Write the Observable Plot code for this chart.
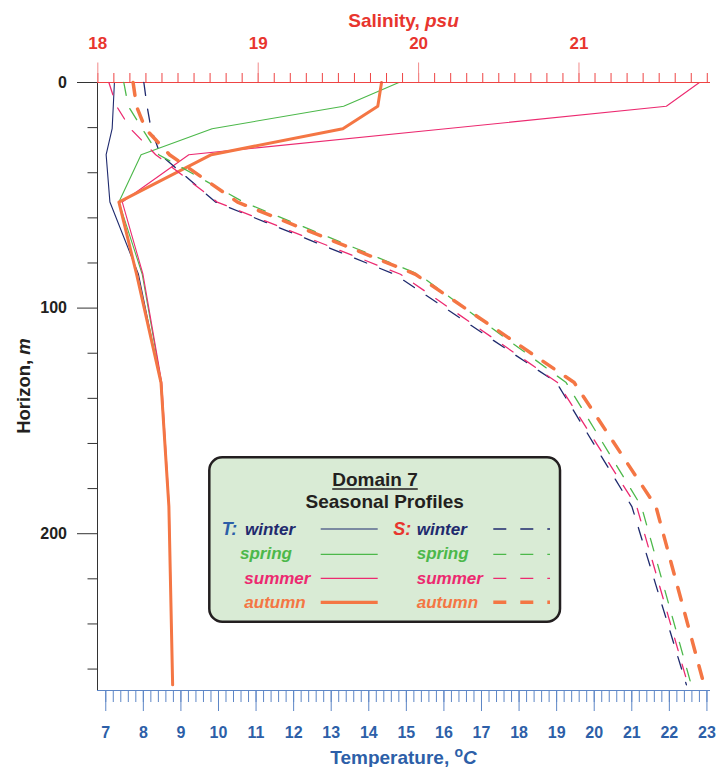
<!DOCTYPE html>
<html><head><meta charset="utf-8">
<script src="https://cdn.jsdelivr.net/npm/d3@7"></script>
<script src="https://cdn.jsdelivr.net/npm/@observablehq/plot@0.6"></script>
<style>
html,body{margin:0;padding:0;background:#fff;}
#wrap{position:relative;width:717px;height:767px;overflow:hidden;background:#fff;font-family:"Liberation Sans",Arial,sans-serif;}
#wrap > svg{position:absolute;left:0;top:0;}
</style></head><body><div id="wrap"></div>
<script>
// ---- data ----
const seasons = ["winter", "spring", "summer", "autumn"];
const depth = [0, 10.5, 20.5, 32, 53, 85, 133, 188, 267];

const tempWinter = [7.23, 7.20, 7.17, 7.01, 7.11, 7.87, 8.46, 8.68, 8.78];
const tempSpring = [14.80, 13.33, 9.83, 7.94, 7.35, 7.97, 8.48, 8.68, 8.78];
const tempSummer = [22.80, 21.92, 16.05, 9.21, 7.44, 7.99, 8.49, 8.69, 8.78];
const tempAutumn = [14.34, 14.24, 13.31, 9.81, 7.35, 7.82, 8.47, 8.68, 8.78];

const salWinter = [18.287, 18.307, 18.332, 18.39, 18.734, 19.85, 20.86, 21.33, 21.67];
const salSpring = [18.162, 18.19, 18.277, 18.38, 18.908, 20.0, 20.92, 21.39, 21.70];
const salSummer = [18.069, 18.117, 18.204, 18.361, 18.744, 19.887, 20.866, 21.36, 21.68];
const salAutumn = [18.22, 18.241, 18.297, 18.447, 18.871, 19.98, 20.97, 21.48, 21.78];

const tempTicks = [7, 8, 9, 10, 11, 12, 13, 14, 15, 16, 17, 18, 19, 20, 21, 22, 23];
const salTicks = [18, 19, 20, 21];
const depthTicks = [0, 100, 200];

const seasonColors = {winter: "#1f2a6e", spring: "#4cb84a", summer: "#ec2a70", autumn: "#f47644"};

// ---- tables ----
const tempSeries = {winter: tempWinter, spring: tempSpring, summer: tempSummer, autumn: tempAutumn};
const salSeries = {winter: salWinter, spring: salSpring, summer: salSummer, autumn: salAutumn};
const tempRows = seasons.flatMap(s => depth.map((d, i) => ({season: s, depth: d, value: tempSeries[s][i]})));
const salRows = seasons.flatMap(s => depth.map((d, i) => ({season: s, depth: d, value: salSeries[s][i]})));

const tempMinor = d3.range(35, 116).map(d => d / 5);
const salMinor = d3.range(180, 219).map(d => d / 10);
const depthMinor = d3.range(0, 261, 20).filter(d => d % 100 !== 0);

const W = 717, H = 767;
const dims = {width: W, height: H, marginLeft: 97, marginRight: 7, marginTop: 82, marginBottom: 77};
const yOpt = {domain: [0, 269.5], reverse: true, axis: null};
const font = "'Liberation Sans', Arial, sans-serif";
const BLUE_T = "#5d86c6", BLUE_L = "#2d5fa8", RED = "#e8352e", RED_T = "#ee4444", RED_M = "#f28a8a", DARK = "#231f20";

const tPlot = Plot.plot({
  ...dims,
  x: {domain: [6.78, 23.095], axis: null},
  y: yOpt,
  style: {background: "transparent", fontFamily: font, overflow: "visible"},
  marks: [
    Plot.axisX({anchor: "bottom", ticks: tempMinor, tickSize: 12, stroke: BLUE_T, fill: "none", label: null}),
    Plot.axisX({anchor: "bottom", ticks: tempTicks, tickSize: 21, tickPadding: 15, stroke: BLUE_T, fill: BLUE_L,
      fontSize: 16, fontWeight: "bold", label: null, tickFormat: d => String(d)}),
    Plot.axisY({anchor: "left", ticks: depthMinor, tickSize: 9.5, stroke: "#333", fill: "none", label: null}),
    Plot.axisY({anchor: "left", ticks: depthTicks, tickSize: 20, tickPadding: 10.5, stroke: "#333", fill: DARK,
      fontSize: 16, fontWeight: "bold", label: null, tickFormat: d => String(d)}),
    Plot.ruleY([269.5], {stroke: BLUE_T}),
    Plot.ruleX([6.78], {stroke: "#333"}),
    ...seasons.map(s => Plot.line(tempRows.filter(r => r.season === s), {
      x: "value", y: "depth", stroke: seasonColors[s], strokeWidth: s === "autumn" ? 3 : 1.1
    }))
  ]
});

const sPlot = Plot.plot({
  ...dims,
  x: {domain: [17.998, 21.82], axis: null},
  y: yOpt,
  style: {background: "transparent", fontFamily: font, overflow: "visible"},
  marks: [
    Plot.axisX({anchor: "top", ticks: salMinor, tickSize: 10, stroke: RED_T, fill: "none", label: null}),
    Plot.axisX({anchor: "top", ticks: salTicks, tickSize: 20.5, tickPadding: 13.5, stroke: RED_M, fill: RED,
      fontSize: 17, fontWeight: "bold", label: null, tickFormat: d => String(d)}),
    Plot.ruleY([0], {stroke: RED_T}),
    ...seasons.map(s => Plot.line(salRows.filter(r => r.season === s), {
      x: "value", y: "depth", stroke: seasonColors[s], strokeWidth: s === "autumn" ? 3.5 : 1.3,
      strokeDasharray: "13,14"
    }))
  ]
});

const wrap = document.getElementById("wrap");
wrap.appendChild(tPlot);
wrap.appendChild(sPlot);

// ---- titles and legend overlay ----
const ov = d3.select(wrap).append("svg").attr("width", W).attr("height", H)
  .style("font-family", font);

const st = ov.append("text").attr("x", 403.5).attr("y", 27).attr("text-anchor", "middle")
  .attr("font-size", 19).attr("font-weight", "bold").attr("fill", RED);
st.append("tspan").text("Salinity, ");
st.append("tspan").attr("font-style", "italic").text("psu");

const tt = ov.append("text").attr("x", 403.5).attr("y", 764).attr("text-anchor", "middle")
  .attr("font-size", 19).attr("font-weight", "bold").attr("fill", BLUE_L);
tt.append("tspan").text("Temperature, ");
tt.append("tspan").attr("font-size", 14).attr("dy", -7).text("o");
tt.append("tspan").attr("font-style", "italic").attr("dy", 7).text("C");

const ht = ov.append("text").attr("transform", "translate(29.5,386) rotate(-90)").attr("text-anchor", "middle")
  .attr("font-size", 18.5).attr("font-weight", "bold").attr("fill", DARK);
ht.append("tspan").text("Horizon, ");
ht.append("tspan").attr("font-style", "italic").text("m");

// legend
const lg = ov.append("g");
lg.append("rect").attr("x", 209.3).attr("y", 457.3).attr("width", 350.7).attr("height", 164.4)
  .attr("rx", 13).attr("fill", "#d9ebd5").attr("stroke", DARK).attr("stroke-width", 2.5);
const dt = lg.append("text").attr("x", 375).attr("y", 486).attr("text-anchor", "middle")
  .attr("font-size", 19).attr("font-weight", "bold").attr("fill", DARK).text("Domain 7");
const bb = dt.node().getBBox();
lg.append("line").attr("x1", bb.x).attr("x2", bb.x + bb.width).attr("y1", 489).attr("y2", 489)
  .attr("stroke", DARK).attr("stroke-width", 1.5);
lg.append("text").attr("x", 384.7).attr("y", 508).attr("text-anchor", "middle")
  .attr("font-size", 19).attr("font-weight", "bold").attr("fill", DARK).text("Seasonal Profiles");

lg.append("text").attr("x", 221.7).attr("y", 535).attr("font-size", 18).attr("font-weight", "bold")
  .attr("font-style", "italic").attr("fill", BLUE_L).text("T:");
lg.append("text").attr("x", 393.3).attr("y", 535).attr("font-size", 18).attr("font-weight", "bold")
  .attr("font-style", "italic").attr("fill", RED).text("S:");

const rowBase = [535, 559.3, 583.5, 607.7];
const rowLine = [529, 554.3, 578.3, 602.3];
const tLabelX = [245, 240, 244.3, 244.3];
seasons.forEach((s, i) => {
  const c = seasonColors[s];
  const thick = s === "autumn";
  lg.append("text").attr("x", tLabelX[i]).attr("y", rowBase[i]).attr("font-size", 17)
    .attr("font-weight", "bold").attr("font-style", "italic").attr("fill", c).text(s);
  lg.append("text").attr("x", 416.7).attr("y", rowBase[i]).attr("font-size", 17)
    .attr("font-weight", "bold").attr("font-style", "italic").attr("fill", c).text(s);
  lg.append("line").attr("x1", 320.7).attr("x2", 377.7).attr("y1", rowLine[i]).attr("y2", rowLine[i])
    .attr("stroke", c).attr("stroke-width", thick ? 3.2 : 1.2);
  lg.append("line").attr("x1", 493.3).attr("x2", 550).attr("y1", rowLine[i]).attr("y2", rowLine[i])
    .attr("stroke", c).attr("stroke-width", thick ? 3.5 : 1.3).attr("stroke-dasharray", "13,14");
});
</script></body></html>
